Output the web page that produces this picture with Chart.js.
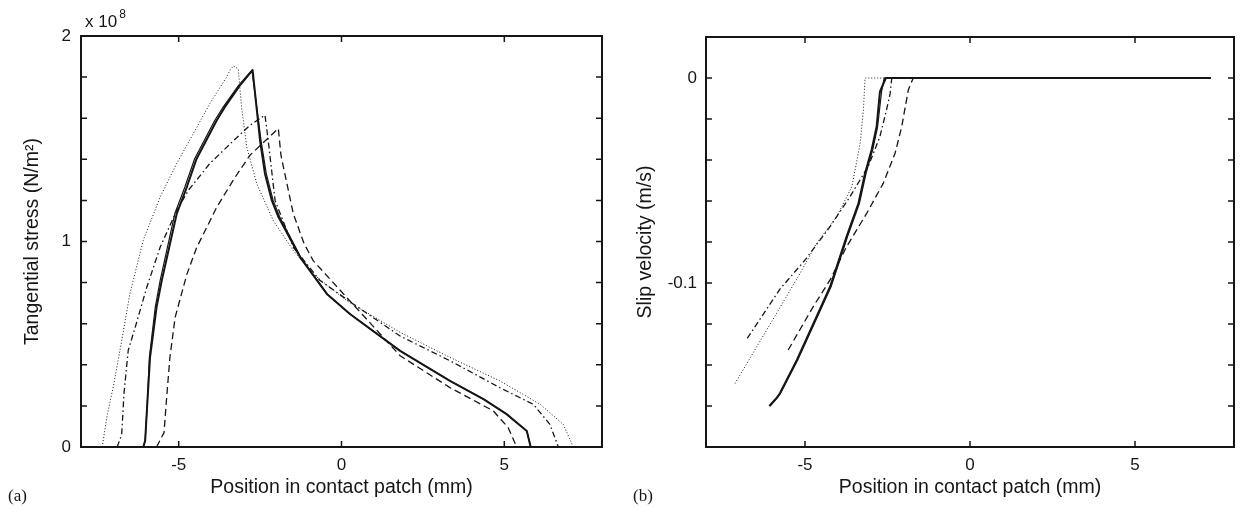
<!DOCTYPE html>
<html><head><meta charset="utf-8">
<script src="https://cdn.jsdelivr.net/npm/chart.js@4.4.1/dist/chart.umd.min.js"></script>
<style>
html,body{margin:0;padding:0;background:#fff;}
#wrap{position:relative;width:1241px;height:508px;overflow:hidden;background:#fff;}
canvas{position:absolute;top:0;}
#cA{left:0;width:620px;height:508px;}
#cB{left:620px;width:621px;height:508px;}
</style></head><body>
<div id="wrap"><canvas id="cA" width="620" height="508"></canvas><canvas id="cB" width="621" height="508"></canvas></div>
<script>
// ---------- (a) Tangential stress (x 10^8 N/m^2) vs position (mm) ----------
const stressSolidX  = [-6.09,-6.03,-5.96,-5.88,-5.68,-5.52,-5.06,-4.75,-4.45,-3.83,-3.58,-3.12,-2.73,-2.50,-2.35,-2.14,-1.94,-1.27,-0.45,0.26,1.80,3.33,4.36,5.07,5.69,5.81];
const stressSolidY  = [0,0.03,0.224,0.436,0.68,0.81,1.135,1.265,1.403,1.59,1.655,1.76,1.834,1.49,1.33,1.20,1.12,0.923,0.745,0.647,0.468,0.322,0.233,0.16,0.078,0];
const stressSolid2X = [-6.09,-6.03,-5.96,-5.90,-5.72,-5.57,-5.12,-4.81,-4.51,-3.89,-3.63,-3.16,-2.75,-2.47,-2.31,-2.10,-1.90,-1.25,-0.44,0.26,1.80,3.33,4.36,5.07,5.69,5.81];
const stressSolid2Y = [0,0.03,0.224,0.436,0.68,0.81,1.135,1.265,1.403,1.59,1.655,1.76,1.834,1.49,1.33,1.20,1.12,0.923,0.745,0.647,0.468,0.322,0.233,0.16,0.078,0];
const stressDashX   = [-5.68,-5.45,-5.38,-5.27,-5.11,-4.75,-4.45,-3.83,-3.32,-2.81,-1.94,-1.86,-1.48,-1.15,-0.87,0.16,1.80,3.33,4.66,5.12,5.38];
const stressDashY   = [0,0.07,0.22,0.436,0.63,0.84,0.97,1.167,1.30,1.42,1.55,1.42,1.135,0.99,0.907,0.728,0.444,0.289,0.176,0.094,0];
const stressDashDotX= [-6.89,-6.75,-6.68,-6.55,-6.34,-5.98,-5.57,-5.06,-4.70,-4.04,-3.32,-2.81,-2.35,-2.25,-2.04,-1.48,-0.66,0.36,1.80,3.33,4.86,5.89,6.40,6.66];
const stressDashDotY= [0,0.06,0.26,0.47,0.58,0.777,0.972,1.151,1.25,1.38,1.49,1.566,1.615,1.49,1.20,0.972,0.81,0.696,0.54,0.42,0.289,0.208,0.11,0];
const stressDotX    = [-7.35,-7.20,-7.00,-6.75,-6.50,-6.09,-5.57,-5.06,-4.55,-4.04,-3.53,-3.42,-3.32,-3.17,-3.07,-2.91,-2.60,-2.09,-1.48,-0.87,0.16,1.80,3.33,4.86,6.10,6.81,7.12];
const stressDotY    = [0,0.15,0.30,0.517,0.745,1.005,1.216,1.38,1.525,1.672,1.80,1.835,1.854,1.84,1.655,1.46,1.28,1.10,0.956,0.842,0.712,0.558,0.436,0.322,0.208,0.11,0];

// ---------- (b) Slip velocity (m/s) vs position (mm) ----------
const slipSolidX  = [-6.08,-5.86,-5.76,-5.25,-4.65,-4.24,-3.74,-3.38,-3.18,-2.98,-2.83,-2.73,-2.55,7.30];
const slipSolidV  = [-0.160,-0.156,-0.1538,-0.1376,-0.1164,-0.1018,-0.0774,-0.0611,-0.0465,-0.035,-0.0238,-0.0067,0,0];
const slipSolid2X = [-6.06,-5.84,-5.74,-5.22,-4.62,-4.21,-3.71,-3.35,-3.15,-2.95,-2.80,-2.68,-2.60,7.30];
const slipSolid2V = [-0.160,-0.156,-0.1538,-0.1376,-0.1164,-0.1018,-0.0774,-0.0611,-0.0465,-0.035,-0.0238,-0.0067,0,0];
const slipDashX   = [-5.51,-4.75,-4.24,-3.74,-3.13,-2.63,-2.27,-2.07,-1.87,-1.72,5.38];
const slipDashV   = [-0.1327,-0.1115,-0.0985,-0.0823,-0.066,-0.0514,-0.0367,-0.0238,-0.0059,0,0];
const slipDashDotX= [-6.75,-5.76,-5.00,-4.24,-3.64,-3.08,-2.73,-2.53,-2.42,-2.37,6.66];
const slipDashDotV= [-0.127,-0.103,-0.0888,-0.0725,-0.058,-0.043,-0.0286,-0.0156,-0.0075,0,0];
const slipDotX    = [-7.12,-5.76,-5.15,-4.65,-4.04,-3.58,-3.33,-3.23,-3.18,7.12];
const slipDotV    = [-0.149,-0.112,-0.0953,-0.0807,-0.0677,-0.053,-0.032,-0.0156,0,0];

// ---------- ticks ----------
const xTickValues      = [-5,0,5];
const xTickLabels      = ['-5','0','5'];
const stressTickValues = [0,0.2,0.4,0.6,0.8,1,1.2,1.4,1.6,1.8,2];
const stressTickLabels = ['0','','','','','1','','','','','2'];
const slipTickValues   = [-0.18,-0.16,-0.14,-0.12,-0.1,-0.08,-0.06,-0.04,-0.02,0,0.02];
const slipTickLabels   = ['','','','','-0.1','','','','','0',''];

const FONT = '"Liberation Sans", Arial, Helvetica, sans-serif';
const INK = '#161616';
Chart.defaults.font.family = FONT;
Chart.defaults.color = INK;

const zip = (xs, ys) => xs.map((x, i) => ({x, y: ys[i]}));
const styles = {
  solid:   {borderWidth: 2.0, borderDash: []},
  solid2:  {borderWidth: 1.2, borderDash: []},
  dash:    {borderWidth: 1.3, borderDash: [7, 4]},
  dashdot: {borderWidth: 1.3, borderDash: [6, 3, 1.5, 3]},
  dot:     {borderWidth: 1.0, borderDash: [1, 2]}
};
function ds(label, xs, ys, st) {
  return Object.assign({label, data: zip(xs, ys), showLine: true, fill: false,
    borderColor: INK, pointRadius: 0, pointHoverRadius: 0, tension: 0,
    borderCapStyle: 'butt', borderJoinStyle: 'round'}, styles[st]);
}

const boxTicks = {
  id: 'boxTicks',
  afterDatasetsDraw(chart) {
    const {ctx, chartArea: a, scales: {x, y}} = chart;
    const L = 6;
    ctx.save();
    ctx.strokeStyle = INK;
    ctx.lineWidth = 1.5;
    ctx.beginPath();
    x.ticks.forEach(t => {
      const px = x.getPixelForValue(t.value);
      ctx.moveTo(px, a.bottom); ctx.lineTo(px, a.bottom - L);
      ctx.moveTo(px, a.top); ctx.lineTo(px, a.top + L);
    });
    y.ticks.forEach(t => {
      const py = y.getPixelForValue(t.value);
      if (py <= a.top + 1 || py >= a.bottom - 1) return;
      ctx.moveTo(a.left, py); ctx.lineTo(a.left + L, py);
      ctx.moveTo(a.right, py); ctx.lineTo(a.right - L, py);
    });
    ctx.stroke();
    ctx.lineWidth = 2;
    ctx.strokeRect(a.left, a.top, a.right - a.left, a.bottom - a.top);
    ctx.restore();
  }
};

const extraText = {
  id: 'extraText',
  afterDraw(chart) {
    const o = chart.options.plugins.extraText || {};
    const ctx = chart.ctx;
    ctx.save();
    ctx.fillStyle = INK;
    if (o.multiplier) {
      ctx.font = '17px ' + FONT;
      ctx.textBaseline = 'alphabetic';
      ctx.textAlign = 'left';
      ctx.fillText('x 10', o.multiplier.x, o.multiplier.y);
      const w = ctx.measureText('x 10').width;
      ctx.font = '12px ' + FONT;
      ctx.fillText('8', o.multiplier.x + w + 2, o.multiplier.y - 9);
    }
    if (o.panel) {
      ctx.font = '17px "Liberation Serif", "Times New Roman", serif';
      ctx.textBaseline = 'middle';
      ctx.textAlign = 'left';
      ctx.fillText(o.panel.text, o.panel.x, o.panel.y);
    }
    ctx.restore();
  }
};

function makeChart(el, cfg) {
  const W = el.width, H = el.height;
  return new Chart(el, {
    type: 'scatter',
    data: {datasets: cfg.datasets},
    options: {
      responsive: false, animation: false, devicePixelRatio: 1,
      layout: {padding: {left: 0, top: cfg.area.top, right: W - cfg.area.right, bottom: 0}},
      plugins: {legend: {display: false}, tooltip: {enabled: false}, extraText: cfg.extra},
      scales: {
        x: {
          type: 'linear', min: -8, max: 8,
          afterBuildTicks: s => { s.ticks = xTickValues.map(v => ({value: v})); },
          afterFit: s => { s.height = H - cfg.area.bottom; },
          grid: {display: false, drawTicks: false},
          border: {display: false},
          ticks: {autoSkip: false, maxRotation: 0, padding: 8, font: {size: 17}, color: INK,
            callback: (v, i) => xTickLabels[i]},
          title: {display: true, text: 'Position in contact patch (mm)', font: {size: 19.5},
            color: INK, padding: {top: 0, bottom: 9}}
        },
        y: {
          type: 'linear', min: cfg.yMin, max: cfg.yMax,
          afterBuildTicks: s => { s.ticks = cfg.yTicks.map(v => ({value: v})); },
          afterFit: s => { s.width = cfg.area.left; },
          grid: {display: false, drawTicks: false},
          border: {display: false},
          ticks: {autoSkip: false, padding: cfg.yPad, font: {size: 17}, color: INK,
            callback: (v, i) => cfg.yLabels[i]},
          title: {display: true, text: cfg.yTitle, font: {size: 19.5}, color: INK,
            padding: {top: cfg.yTitlePad, bottom: 0}}
        }
      }
    },
    plugins: [boxTicks, extraText]
  });
}

makeChart(document.getElementById('cA'), {
  area: {left: 81, right: 602, top: 36, bottom: 447},
  yMin: 0, yMax: 2, yTicks: stressTickValues, yLabels: stressTickLabels, yPad: 10,
  yTitle: 'Tangential stress (N/m\u00B2)', yTitlePad: 21,
  extra: {multiplier: {x: 85, y: 27}, panel: {text: '(a)', x: 8, y: 497}},
  datasets: [
    ds('dotted', stressDotX, stressDotY, 'dot'),
    ds('dash-dot', stressDashDotX, stressDashDotY, 'dashdot'),
    ds('dashed', stressDashX, stressDashY, 'dash'),
    ds('solid 2', stressSolid2X, stressSolid2Y, 'solid2'),
    ds('solid', stressSolidX, stressSolidY, 'solid')
  ]
});

makeChart(document.getElementById('cB'), {
  area: {left: 86, right: 614, top: 37, bottom: 447},
  yMin: -0.18, yMax: 0.02, yTicks: slipTickValues, yLabels: slipTickLabels, yPad: 9,
  yTitle: 'Slip velocity (m/s)', yTitlePad: 14,
  extra: {panel: {text: '(b)', x: 13, y: 497}},
  datasets: [
    ds('dotted', slipDotX, slipDotV, 'dot'),
    ds('dash-dot', slipDashDotX, slipDashDotV, 'dashdot'),
    ds('dashed', slipDashX, slipDashV, 'dash'),
    ds('solid 2', slipSolid2X, slipSolid2V, 'solid2'),
    ds('solid', slipSolidX, slipSolidV, 'solid')
  ]
});
</script>
</body></html>
